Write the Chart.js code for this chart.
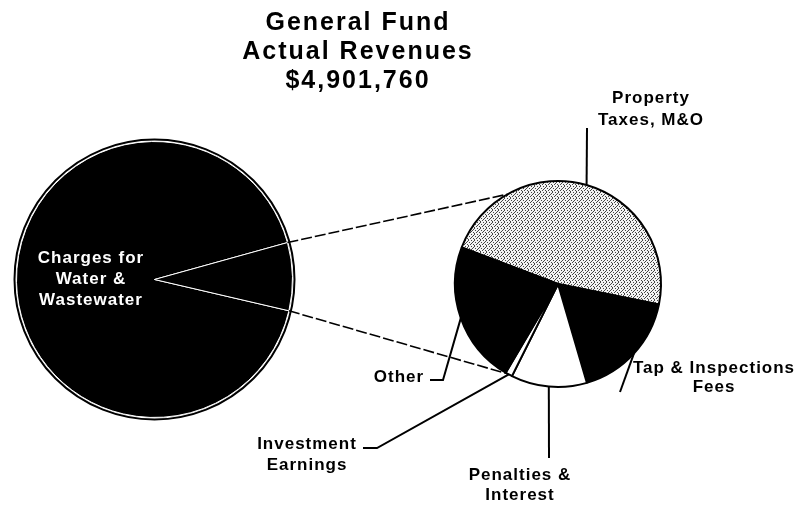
<!DOCTYPE html>
<html>
<head>
<meta charset="utf-8">
<script src="https://cdn.jsdelivr.net/npm/chart.js@4.4.1/dist/chart.umd.min.js"></script>
<style>
  html, body { margin: 0; padding: 0; background: #fff; }
  .wrap { position: relative; width: 801px; height: 506px; }
  .wrap canvas { position: absolute; left: 0; top: 0; }
</style>
</head>
<body>
<div class="wrap">
  <canvas id="mainPie" width="801" height="506"></canvas>
  <canvas id="subPie" width="801" height="506"></canvas>
</div>
<script>
const titleLines = ['General Fund', 'Actual Revenues', '$4,901,760']

// first pie: water charges vs. everything else (the small pie)
const mainLabels = ['Charges for Water & Wastewater', 'Other revenues']
const mainValues = [4512060, 389700]

// second pie: breakdown of the "other revenues" slice
const subLabels = ['Property Taxes, M&O', 'Tap & Inspections Fees', 'Penalties & Interest', 'Investment Earnings', 'Other']
const subValues = [184700, 67400, 46400, 4300, 86900]

const FONT = '"Liberation Sans", Arial, Helvetica, sans-serif'

// where each label of the small pie sits, and the bends of its leader line
const subLabelLayout = [
    { lines: ['Property', 'Taxes, M&O'], x: 651, y: [103, 125], path: [[587, 128]] },
    { lines: ['Tap & Inspections', 'Fees'], x: 714, y: [373, 392], path: [[620, 392]] },
    { lines: ['Penalties &', 'Interest'], x: 520, y: [480, 500], path: [[549, 458]] },
    { lines: ['Investment', 'Earnings'], x: 307, y: [449, 470], path: [[377, 448], [363, 448]] },
    { lines: ['Other'], x: 399, y: [382], path: [[443, 380], [430, 380]] },
]
// angles (deg) on the small pie where the series lines land
const seriesLineEnds = [240.7, 119.3]

function stipple() {
    const c = document.createElement('canvas')
    c.width = 6
    c.height = 6
    const g = c.getContext('2d')
    g.fillStyle = '#f3f3f3'
    g.fillRect(0, 0, 6, 6)
    g.fillStyle = '#444'
    const dots = [[0, 0], [3, 0], [1, 2], [4, 2], [5, 4], [2, 4], [0, 5], [3, 3], [5, 1]]
    dots.forEach(([x, y]) => g.fillRect(x, y, 1, 1))
    return g.createPattern(c, 'repeat')
}

const baseOptions = {
    responsive: false,
    animation: false,
    events: [],
    plugins: {
        legend: { display: false },
        tooltip: { enabled: false },
        title: { display: false },
    },
}

const mainPie = new Chart(document.getElementById('mainPie'), {
    type: 'pie',
    data: {
        labels: mainLabels,
        datasets: [{
            data: mainValues,
            backgroundColor: ['#000', '#000'],
            borderColor: '#fff',
            borderWidth: 1,
            hoverOffset: 0,
        }],
    },
    options: {
        ...baseOptions,
        rotation: 103.1,
        layout: { padding: { left: 16, right: 508, top: 141, bottom: 88 } },
    },
    plugins: [{
        id: 'ringAndLabel',
        afterDatasetsDraw(chart) {
            const ctx = chart.ctx
            const arc = chart.getDatasetMeta(0).data[0]
            ctx.save()
            ctx.strokeStyle = '#000'
            ctx.lineWidth = 2
            ctx.beginPath()
            ctx.arc(arc.x, arc.y, arc.outerRadius + 2, 0, Math.PI * 2)
            ctx.stroke()
            ctx.fillStyle = '#fff'
            ctx.font = 'bold 17px ' + FONT
            ctx.letterSpacing = '1px'
            ctx.textAlign = 'center'
            ;['Charges for', 'Water &', 'Wastewater'].forEach((t, i) => {
                ctx.fillText(t, 91, 263 + i * 21)
            })
            ctx.restore()
        },
    }],
})

const subPie = new Chart(document.getElementById('subPie'), {
    type: 'pie',
    data: {
        labels: subLabels,
        datasets: [{
            data: subValues,
            backgroundColor: [stipple(), '#000', '#fff', '#fff', '#000'],
            borderColor: '#000',
            borderWidth: 2,
            hoverOffset: 0,
        }],
    },
    options: {
        ...baseOptions,
        rotation: 290.8,
        layout: { padding: { left: 454, right: 139, top: 180, bottom: 118 } },
    },
    plugins: [{
        id: 'pieOfPie',
        afterDraw(chart) {
            const ctx = chart.ctx
            const subArcs = chart.getDatasetMeta(0).data
            const big = mainPie.getDatasetMeta(0).data[1]
            const cx = subArcs[0].x
            const cy = subArcs[0].y
            const r = subArcs[0].outerRadius
            ctx.save()

            // series lines between the two pies
            ctx.strokeStyle = '#000'
            ctx.lineWidth = 1.6
            ctx.setLineDash([11, 3])
            ;[big.startAngle, big.endAngle].forEach((a, i) => {
                const b = seriesLineEnds[i] * Math.PI / 180
                ctx.beginPath()
                ctx.moveTo(big.x + big.outerRadius * Math.cos(a), big.y + big.outerRadius * Math.sin(a))
                ctx.lineTo(cx + r * Math.cos(b), cy + r * Math.sin(b))
                ctx.stroke()
            })
            ctx.setLineDash([])

            // leader lines + labels
            ctx.lineWidth = 2
            ctx.font = 'bold 17px ' + FONT
            ctx.letterSpacing = '1px'
            ctx.textAlign = 'center'
            ctx.fillStyle = '#000'
            subArcs.forEach((arc, i) => {
                const lay = subLabelLayout[i]
                const mid = (arc.startAngle + arc.endAngle) / 2
                ctx.beginPath()
                ctx.moveTo(cx + r * Math.cos(mid), cy + r * Math.sin(mid))
                lay.path.forEach(([px, py]) => ctx.lineTo(px, py))
                ctx.stroke()
                lay.lines.forEach((t, j) => ctx.fillText(t, lay.x, lay.y[j]))
            })

            // title
            ctx.font = 'bold 25px ' + FONT
            ctx.letterSpacing = '2px'
            titleLines.forEach((t, i) => ctx.fillText(t, 358, 30 + i * 29))
            ctx.restore()
        },
    }],
})
</script>
</body>
</html>
